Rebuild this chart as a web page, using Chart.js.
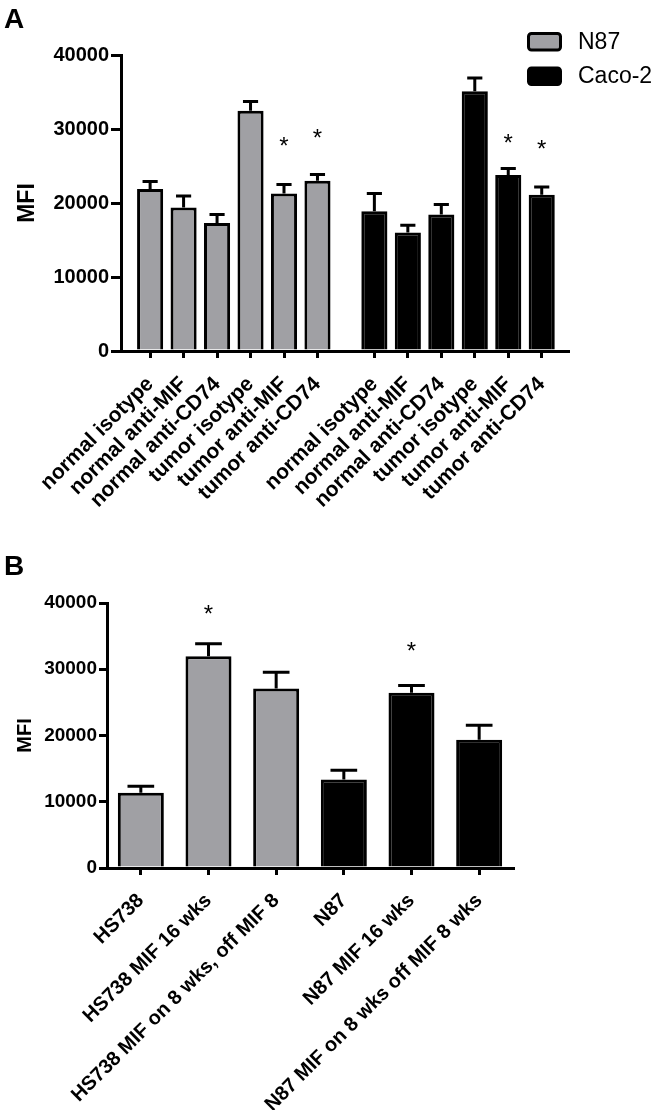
<!DOCTYPE html>
<html>
<head>
<meta charset="utf-8">
<title>MFI</title>
<script src="https://cdn.jsdelivr.net/npm/chart.js@4"></script>
<style>
  body { margin: 0; background: #fff; }
  canvas { display: block; }
</style>
</head>
<body>
<canvas id="chartA" width="662" height="550"></canvas>
<canvas id="chartB" width="662" height="560"></canvas>
<script>
// panel A: N87 and Caco-2, same six conditions each
var labelsA = ['normal isotype', 'normal anti-MIF', 'normal anti-CD74', 'tumor isotype', 'tumor anti-MIF', 'tumor anti-CD74'];
var n87Mean = [21900, 19400, 17300, 32450, 21300, 23000];
var n87Sem = [1000, 1550, 1150, 1250, 1200, 850];
var n87Star = [null, null, null, null, 28400, 29500];
var cacoMean = [18900, 16000, 18450, 35100, 23800, 21100];
var cacoSem = [2400, 1000, 1350, 1800, 850, 1050];
var cacoStar = [null, null, null, null, 28800, 28000];

// panel B
var labelsB = ['HS738', 'HS738 MIF 16 wks', 'HS738 MIF on 8 wks, off MIF 8', 'N87', 'N87 MIF 16 wks', 'N87 MIF on 8 wks off MIF 8 wks'];
var meanB = [11350, 31950, 27100, 13350, 26450, 19350];
var semB = [1000, 1900, 2450, 1400, 1100, 2200];
var starB = [null, 39100, null, null, 33550, null];
var groupB = ['HS738', 'HS738', 'HS738', 'N87', 'N87', 'N87'];

var yTickValues = [0, 10000, 20000, 30000, 40000];

var GRAY = '#a0a0a4';
var FONT = "'Liberation Sans', Arial, sans-serif";

// error bars (upper only) and significance stars
var errorBars = {
  id: 'errorBars',
  afterDatasetsDraw: function (chart) {
    var ctx = chart.ctx;
    var y = chart.scales.y;
    chart.data.datasets.forEach(function (ds, di) {
      var meta = chart.getDatasetMeta(di);
      meta.data.forEach(function (bar, i) {
        var v = ds.data[i];
        var val = (typeof v === 'object') ? v.y : v;
        var top = y.getPixelForValue(val + ds.sem[i]);
        var half = bar.width * 0.29;
        ctx.save();
        ctx.strokeStyle = '#000';
        ctx.lineWidth = 3;
        ctx.beginPath();
        ctx.moveTo(bar.x, bar.y);
        ctx.lineTo(bar.x, top);
        ctx.moveTo(bar.x - half, top);
        ctx.lineTo(bar.x + half, top);
        ctx.stroke();
        if (ds.stars && ds.stars[i] != null) {
          ctx.fillStyle = '#000';
          ctx.font = '24px ' + FONT;
          ctx.textAlign = 'center';
          ctx.textBaseline = 'alphabetic';
          ctx.fillText('*', bar.x, y.getPixelForValue(ds.stars[i]) + 13);
        }
        ctx.restore();
      });
    });
  }
};

function panelLetter(letter, baseline) {
  return {
    id: 'panelLetter',
    afterDraw: function (chart) {
      var ctx = chart.ctx;
      ctx.save();
      ctx.fillStyle = '#000';
      ctx.font = 'bold 28px ' + FONT;
      ctx.textBaseline = 'alphabetic';
      ctx.fillText(letter, 4, baseline);
      ctx.restore();
    }
  };
}

var boxLegend = {
  id: 'boxLegend',
  afterDraw: function (chart) {
    var ctx = chart.ctx;
    chart.data.datasets.forEach(function (ds, i) {
      var top = 33.5 + i * 34.5;
      ctx.save();
      ctx.fillStyle = ds.backgroundColor;
      ctx.strokeStyle = '#000';
      ctx.lineWidth = 3;
      ctx.beginPath();
      ctx.roundRect(528.5, top, 32, 16.5, 3);
      ctx.fill();
      ctx.stroke();
      ctx.fillStyle = '#000';
      ctx.font = '23px ' + FONT;
      ctx.textBaseline = 'middle';
      ctx.fillText(ds.label, 578, top + 9);
      ctx.restore();
    });
  }
};

function yScale(width, tickFont, tickLen, titleFont, titlePad) {
  return {
    min: 0,
    max: 40000,
    afterBuildTicks: function (axis) {
      axis.ticks = yTickValues.map(function (v) { return { value: v }; });
    },
    afterFit: function (axis) { axis.width = width; },
    ticks: {
      color: '#000',
      padding: 2,
      font: { family: FONT, size: tickFont, weight: 'bold' },
      callback: function (v) { return String(v); }
    },
    grid: { drawOnChartArea: false, drawTicks: true, tickLength: tickLen, lineWidth: 3, color: '#000' },
    border: { display: true, width: 3, color: '#000' },
    title: {
      display: true,
      text: 'MFI',
      color: '#000',
      padding: { top: titlePad, bottom: 0 },
      font: { family: FONT, size: titleFont, weight: 'bold' }
    }
  };
}

// ---------- chart A ----------
var gapA = 0.7;
var xN87 = n87Mean.map(function (v, i) { return i + 1; });
var xCaco = cacoMean.map(function (v, i) { return i + 7 + gapA; });
var tickPosA = xN87.concat(xCaco);
var tickLabelsA = labelsA.concat(labelsA);

new Chart(document.getElementById('chartA'), {
  type: 'bar',
  data: {
    datasets: [{
      label: 'N87',
      data: n87Mean.map(function (v, i) { return { x: xN87[i], y: v }; }),
      sem: n87Sem,
      stars: n87Star,
      backgroundColor: GRAY,
      borderColor: '#000',
      borderWidth: 3,
      grouped: false,
      barPercentage: 0.78,
      categoryPercentage: 1
    }, {
      label: 'Caco-2',
      data: cacoMean.map(function (v, i) { return { x: xCaco[i], y: v }; }),
      sem: cacoSem,
      stars: cacoStar,
      backgroundColor: '#000',
      borderColor: '#000',
      borderWidth: 3,
      grouped: false,
      barPercentage: 0.78,
      categoryPercentage: 1
    }]
  },
  options: {
    responsive: false,
    animation: false,
    layout: { padding: { left: 0, top: 55, right: 93.5, bottom: 0 } },
    plugins: { legend: { display: false }, tooltip: { enabled: false } },
    scales: {
      x: {
        type: 'linear',
        min: 0.13,
        max: 13.5,
        offset: false,
        afterBuildTicks: function (axis) {
          axis.ticks = tickPosA.map(function (v) { return { value: v }; });
        },
        afterFit: function (axis) { axis.height = 199; },
        ticks: {
          autoSkip: false,
          minRotation: 45,
          maxRotation: 45,
          color: '#000',
          padding: 14,
          font: { family: FONT, size: 21, weight: 'bold' },
          callback: function (v, i) { return tickLabelsA[i]; }
        },
        grid: { offset: false, drawOnChartArea: false, drawTicks: true, tickLength: 7, lineWidth: 3, color: '#000' },
        border: { display: true, width: 3, color: '#000' }
      },
      y: yScale(121, 20, 10, 23, 14)
    }
  },
  plugins: [errorBars, boxLegend, panelLetter('A', 28)]
});

// ---------- chart B ----------
new Chart(document.getElementById('chartB'), {
  type: 'bar',
  data: {
    labels: labelsB,
    datasets: [{
      label: 'MFI',
      data: meanB,
      sem: semB,
      stars: starB,
      backgroundColor: groupB.map(function (g) { return g === 'HS738' ? GRAY : '#000'; }),
      borderColor: '#000',
      borderWidth: 3,
      barPercentage: 0.68,
      categoryPercentage: 1
    }]
  },
  options: {
    responsive: false,
    animation: false,
    layout: { padding: { left: 0, top: 53, right: 149, bottom: 0 } },
    plugins: { legend: { display: false }, tooltip: { enabled: false } },
    scales: {
      x: {
        afterFit: function (axis) { axis.height = 242; },
        ticks: {
          autoSkip: false,
          minRotation: 45,
          maxRotation: 45,
          color: '#000',
          padding: 14,
          font: { family: FONT, size: 20, weight: 'bold' }
        },
        grid: { offset: false, drawOnChartArea: false, drawTicks: true, tickLength: 7, lineWidth: 3, color: '#000' },
        border: { display: true, width: 3, color: '#000' }
      },
      y: yScale(107, 19, 8, 20, 13)
    }
  },
  plugins: [errorBars, panelLetter('B', 25)]
});
</script>
</body>
</html>
